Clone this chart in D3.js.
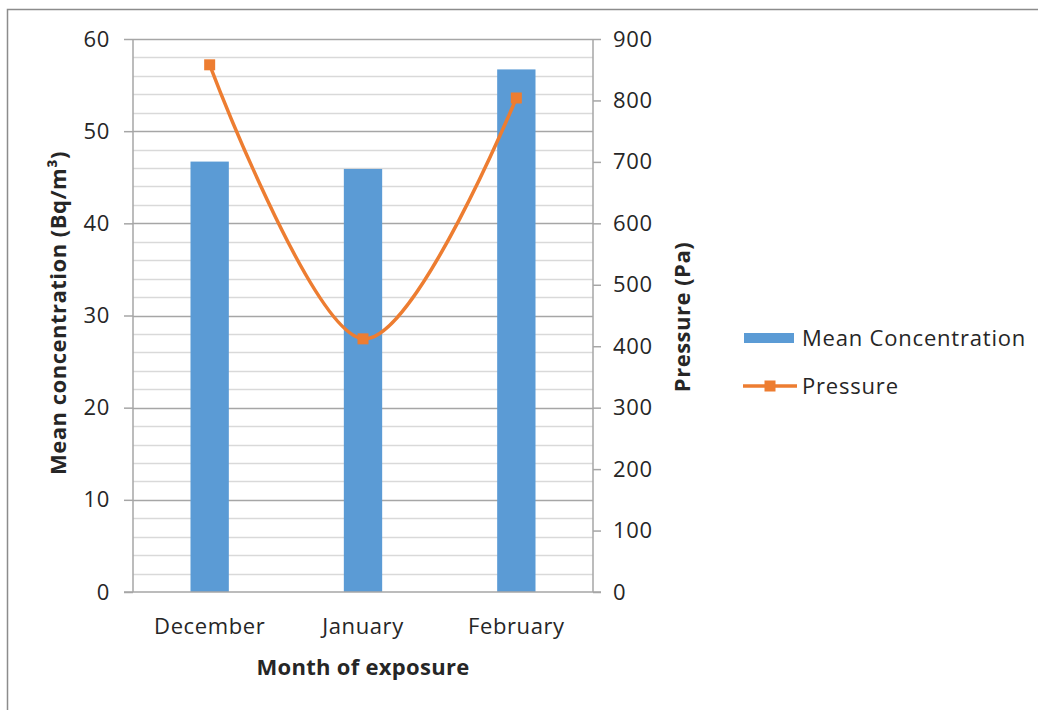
<!DOCTYPE html>
<html>
<head>
<meta charset="utf-8">
<script src="https://cdn.jsdelivr.net/npm/d3@7"></script>
<style>
  html, body { margin: 0; padding: 0; background: #fff; }
  svg { display: block; }
  text { font-family: "Open Sans", sans-serif; fill: #262626; }
</style>
</head>
<body>
<svg id="chart" width="1038" height="710"></svg>
<script>
// Monthly mean radon concentration (bars) and pressure (smoothed line)
const months = ["December", "January", "February"];
const meanConcentration = [46.7, 45.9, 56.7];
const pressure = [858, 412, 804];
const leftTicks = [0, 10, 20, 30, 40, 50, 60];
const rightTicks = [0, 100, 200, 300, 400, 500, 600, 700, 800, 900];
const gridValues = d3.range(2, 61, 2);

const svg = d3.select("#chart");
const plot = { left: 133, right: 593, top: 39, bottom: 592 };
const textColor = "#262626";

const x = d3.scaleBand()
  .domain(months)
  .range([plot.left, plot.right])
  .paddingInner(0.75)
  .paddingOuter(0.375);
const xCenter = d => x(d) + x.bandwidth() / 2;

const yL = d3.scaleLinear().domain([0, 60]).range([plot.bottom, plot.top]);
const yR = d3.scaleLinear().domain([0, 900]).range([plot.bottom, plot.top]);

// outer frame (top and left edges)
svg.append("path")
  .attr("d", "M7.5,710 V9.5 H1038")
  .attr("fill", "none")
  .attr("stroke", "#8c8c8c")
  .attr("stroke-width", 1.5);

// horizontal gridlines: minor every 2, major every 10
svg.append("g").selectAll("line")
  .data(gridValues)
  .join("line")
  .attr("x1", plot.left).attr("x2", plot.right)
  .attr("y1", d => Math.round(yL(d)) + 0.5)
  .attr("y2", d => Math.round(yL(d)) + 0.5)
  .attr("stroke", d => d % 10 === 0 ? "#a6a6a6" : "#d9d9d9")
  .attr("stroke-width", 1.5);

function styleTicks(g, size) {
  g.selectAll(".tick text")
    .attr("font-size", size)
    .attr("font-family", "Open Sans")
    .attr("fill", textColor)
    .attr("letter-spacing", 0.7);
}

// left axis
const leftAxis = d3.axisLeft(yL).tickValues(leftTicks).tickSize(9).tickPadding(14).tickFormat(d3.format("d"));
const gL = svg.append("g").attr("transform", `translate(${plot.left},0)`).call(leftAxis);
gL.select(".domain").attr("stroke", "#a6a6a6").attr("stroke-width", 1.5).attr("d", `M0,${plot.top}V${plot.bottom}`);
gL.selectAll(".tick line").attr("stroke", "#a6a6a6").attr("stroke-width", 1.5);
styleTicks(gL, 22);

// right axis
const rightAxis = d3.axisRight(yR).tickValues(rightTicks).tickSize(8).tickPadding(12).tickFormat(d3.format("d"));
const gR = svg.append("g").attr("transform", `translate(${plot.right},0)`).call(rightAxis);
gR.select(".domain").attr("stroke", "#a6a6a6").attr("stroke-width", 1.5).attr("d", `M0,${plot.top}V${plot.bottom}`);
gR.selectAll(".tick line").attr("stroke", "#a6a6a6").attr("stroke-width", 1.5);
styleTicks(gR, 22);

// bars
svg.append("g").selectAll("rect")
  .data(months.map((m, i) => ({ m, v: meanConcentration[i] })))
  .join("rect")
  .attr("x", d => x(d.m))
  .attr("width", x.bandwidth())
  .attr("y", d => yL(d.v))
  .attr("height", d => yL(0) - yL(d.v))
  .attr("fill", "#5b9bd5");

// baseline axis
const bottomAxis = d3.axisBottom(x).tickSize(0).tickPadding(26);
const gB = svg.append("g").attr("transform", `translate(0,${plot.bottom})`).call(bottomAxis);
gB.select(".domain").attr("stroke", "#a6a6a6").attr("stroke-width", 1.5)
  .attr("d", `M${plot.left - 9},0H${plot.right + 8}`);
styleTicks(gB, 22);
gB.selectAll(".tick text").attr("letter-spacing", 0.6);

// pressure line, smoothed
const pts = months.map((m, i) => [xCenter(m), yR(pressure[i])]);
svg.append("path")
  .attr("d", d3.line().curve(d3.curveCatmullRom.alpha(0))(pts))
  .attr("fill", "none")
  .attr("stroke", "#ed7d31")
  .attr("stroke-width", 3.5);

const mk = 11;
svg.append("g").selectAll("rect")
  .data(pts)
  .join("rect")
  .attr("x", d => d[0] - mk / 2)
  .attr("y", d => d[1] - mk / 2)
  .attr("width", mk).attr("height", mk)
  .attr("fill", "#ed7d31");

// axis titles
svg.append("text")
  .attr("transform", "translate(66,313) rotate(-90)")
  .attr("text-anchor", "middle")
  .attr("font-size", 22).attr("font-weight", 700).attr("letter-spacing", 0.5)
  .attr("fill", "#000")
  .text("Mean concentration (Bq/m³)");

svg.append("text")
  .attr("transform", "translate(690,317) rotate(-90)")
  .attr("text-anchor", "middle")
  .attr("font-size", 22).attr("font-weight", 700).attr("letter-spacing", 0.5)
  .attr("fill", "#000")
  .text("Pressure (Pa)");

svg.append("text")
  .attr("x", 363).attr("y", 675)
  .attr("text-anchor", "middle")
  .attr("font-size", 22).attr("font-weight", 700).attr("letter-spacing", 0.3)
  .attr("fill", "#000")
  .text("Month of exposure");

// legend
const lg = svg.append("g");
lg.append("rect").attr("x", 744).attr("y", 333).attr("width", 50).attr("height", 10).attr("fill", "#5b9bd5");
lg.append("text").attr("x", 802).attr("y", 346).attr("font-size", 22).attr("letter-spacing", 0.8).text("Mean Concentration");
lg.append("line").attr("x1", 743).attr("x2", 797).attr("y1", 386).attr("y2", 386)
  .attr("stroke", "#ed7d31").attr("stroke-width", 3.5);
lg.append("rect").attr("x", 770 - mk / 2).attr("y", 386 - mk / 2).attr("width", mk).attr("height", mk).attr("fill", "#ed7d31");
lg.append("text").attr("x", 802).attr("y", 394).attr("font-size", 22).attr("letter-spacing", 0.8).text("Pressure");
</script>
</body>
</html>
